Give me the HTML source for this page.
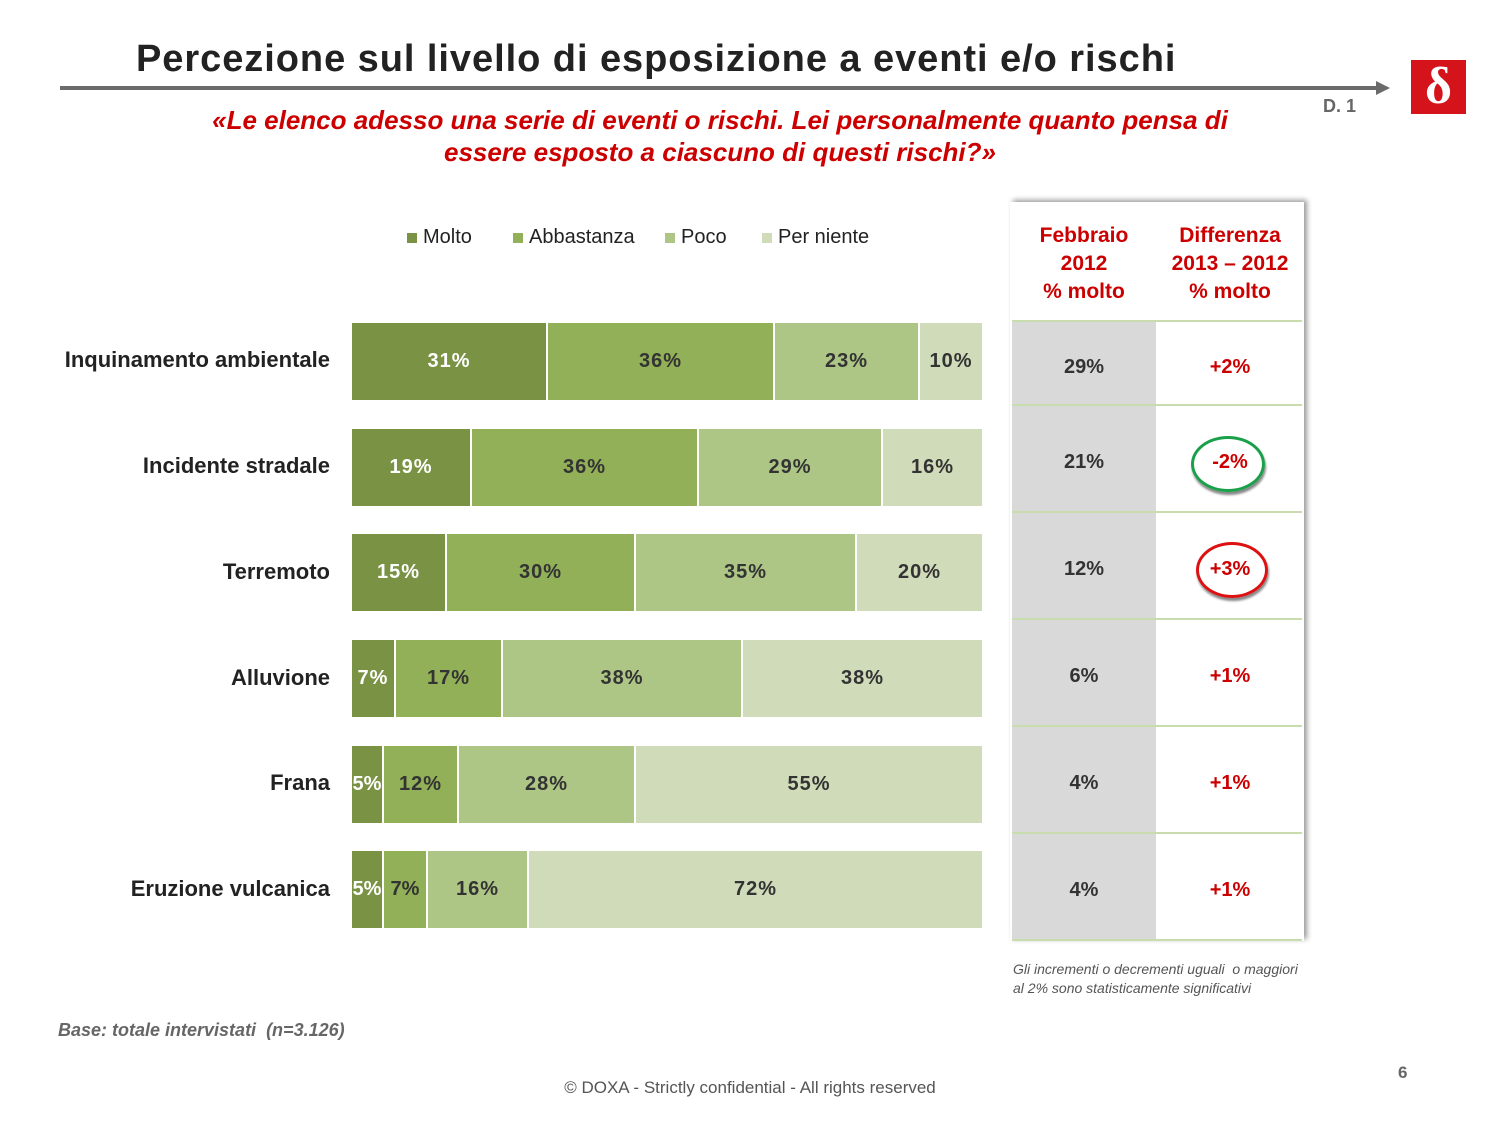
<!DOCTYPE html>
<html><head><meta charset="utf-8"><style>
body{margin:0;width:1500px;height:1125px;background:#fff;position:relative;overflow:hidden;font-family:"Liberation Sans","DejaVu Sans",sans-serif}
.a{position:absolute}
.seg{position:absolute;height:77px;display:flex;align-items:center;justify-content:center;font-weight:bold;font-size:20px;color:#333;border-right:2px solid #fff;box-sizing:border-box;letter-spacing:1px}
.lab{position:absolute;right:1170px;font-weight:bold;font-size:22px;color:#222;text-align:right;white-space:nowrap}
.cell{position:absolute;display:flex;align-items:center;justify-content:center;font-weight:bold;font-size:20px}
.hl{position:absolute;left:1012px;width:290px;height:2px;background:#c9dcae}
.lg{position:absolute;top:226px;font-size:20px;color:#222;white-space:nowrap}
.lg i{display:inline-block;width:10px;height:10px;margin-right:6px}
</style></head><body>
<div class="a" style="left:136px;top:38px;font-size:38px;font-weight:bold;color:#222;letter-spacing:0.95px">Percezione sul livello di esposizione a eventi e/o rischi</div>
<div class="a" style="left:60px;top:86px;width:1320px;height:4px;background:#6b6b6b"></div>
<div class="a" style="left:1376px;top:81px;width:0;height:0;border-left:14px solid #6b6b6b;border-top:7px solid transparent;border-bottom:7px solid transparent"></div>
<div class="a" style="left:1323px;top:96px;font-size:18px;font-weight:bold;color:#666">D. 1</div>
<div class="a" style="left:1411px;top:60px;width:55px;height:54px;background:#d4141a;color:#fff;font-size:52px;font-weight:bold;line-height:54px;text-align:center;font-family:'Liberation Serif',serif">δ</div>
<div class="a" style="left:150px;width:1140px;top:104px;text-align:center;color:#cc0000;font-size:26px;font-weight:bold;font-style:italic;line-height:32px">«Le elenco adesso una serie di eventi o rischi. Lei personalmente quanto pensa di<br>essere esposto a ciascuno di questi rischi?»</div>

<div class="lg" style="left:407px"><i style="background:#7a9243"></i>Molto</div>
<div class="lg" style="left:513px"><i style="background:#92b057"></i>Abbastanza</div>
<div class="lg" style="left:665px"><i style="background:#aec685"></i>Poco</div>
<div class="lg" style="left:762px"><i style="background:#cfdbb9"></i>Per niente</div>

<div class="lab" style="top:347px">Inquinamento ambientale</div>
<div class="lab" style="top:453px">Incidente stradale</div>
<div class="lab" style="top:559px">Terremoto</div>
<div class="lab" style="top:665px">Alluvione</div>
<div class="lab" style="top:770px">Frana</div>
<div class="lab" style="top:876px">Eruzione vulcanica</div>

<div class="seg" style="top:323px;left:352px;width:196px;background:#7a9243;color:#fff">31%</div>
<div class="seg" style="top:323px;left:548px;width:227px;background:#92b057">36%</div>
<div class="seg" style="top:323px;left:775px;width:145px;background:#aec685">23%</div>
<div class="seg" style="top:323px;left:920px;width:62px;background:#cfdbb9;border:0">10%</div>

<div class="seg" style="top:429px;left:352px;width:120px;background:#7a9243;color:#fff">19%</div>
<div class="seg" style="top:429px;left:472px;width:227px;background:#92b057">36%</div>
<div class="seg" style="top:429px;left:699px;width:184px;background:#aec685">29%</div>
<div class="seg" style="top:429px;left:883px;width:99px;background:#cfdbb9;border:0">16%</div>

<div class="seg" style="top:534px;left:352px;width:95px;background:#7a9243;color:#fff">15%</div>
<div class="seg" style="top:534px;left:447px;width:189px;background:#92b057">30%</div>
<div class="seg" style="top:534px;left:636px;width:221px;background:#aec685">35%</div>
<div class="seg" style="top:534px;left:857px;width:125px;background:#cfdbb9;border:0">20%</div>

<div class="seg" style="top:640px;left:352px;width:44px;background:#7a9243;color:#fff">7%</div>
<div class="seg" style="top:640px;left:396px;width:107px;background:#92b057">17%</div>
<div class="seg" style="top:640px;left:503px;width:240px;background:#aec685">38%</div>
<div class="seg" style="top:640px;left:743px;width:239px;background:#cfdbb9;border:0">38%</div>

<div class="seg" style="top:746px;left:352px;width:32px;background:#7a9243;color:#fff;letter-spacing:0">5%</div>
<div class="seg" style="top:746px;left:384px;width:75px;background:#92b057">12%</div>
<div class="seg" style="top:746px;left:459px;width:177px;background:#aec685">28%</div>
<div class="seg" style="top:746px;left:636px;width:346px;background:#cfdbb9;border:0">55%</div>

<div class="seg" style="top:851px;left:352px;width:32px;background:#7a9243;color:#fff;letter-spacing:0">5%</div>
<div class="seg" style="top:851px;left:384px;width:44px;background:#92b057;letter-spacing:0">7%</div>
<div class="seg" style="top:851px;left:428px;width:101px;background:#aec685">16%</div>
<div class="seg" style="top:851px;left:529px;width:453px;background:#cfdbb9;border:0">72%</div>

<div class="a" style="left:1010px;top:202px;width:294px;height:739px;background:#fff;box-shadow:3px -2px 5px #999"></div>
<div class="a" style="left:1012px;top:320px;width:144px;height:620px;background:#d9d9d9"></div>
<div class="hl" style="top:320px"></div><div class="hl" style="top:404px"></div><div class="hl" style="top:511px"></div><div class="hl" style="top:618px"></div><div class="hl" style="top:725px"></div><div class="hl" style="top:832px"></div><div class="hl" style="top:939px"></div>
<div class="cell" style="left:1012px;top:222px;width:144px;color:#cc0000;text-align:center;line-height:28px;font-size:21px">Febbraio<br>2012<br>% molto</div>
<div class="cell" style="left:1156px;top:222px;width:148px;color:#cc0000;text-align:center;line-height:28px;font-size:21px">Differenza<br>2013 – 2012<br>% molto</div>

<div class="cell" style="left:1012px;top:325px;width:144px;height:84px;color:#333">29%</div>
<div class="cell" style="left:1012px;top:409px;width:144px;height:107px;color:#333">21%</div>
<div class="cell" style="left:1012px;top:516px;width:144px;height:107px;color:#333">12%</div>
<div class="cell" style="left:1012px;top:623px;width:144px;height:107px;color:#333">6%</div>
<div class="cell" style="left:1012px;top:730px;width:144px;height:107px;color:#333">4%</div>
<div class="cell" style="left:1012px;top:837px;width:144px;height:107px;color:#333">4%</div>
<div class="cell" style="left:1156px;top:325px;width:148px;height:84px;color:#cc0000">+2%</div>
<div class="cell" style="left:1156px;top:409px;width:148px;height:107px;color:#cc0000">-2%</div>
<div class="cell" style="left:1156px;top:516px;width:148px;height:107px;color:#cc0000">+3%</div>
<div class="cell" style="left:1156px;top:623px;width:148px;height:107px;color:#cc0000">+1%</div>
<div class="cell" style="left:1156px;top:730px;width:148px;height:107px;color:#cc0000">+1%</div>
<div class="cell" style="left:1156px;top:837px;width:148px;height:107px;color:#cc0000">+1%</div>
<div class="a" style="left:1191px;top:436px;width:68px;height:50px;border:3px solid #1aa04a;border-radius:50%;box-shadow:1px 3px 2px #888"></div>
<div class="a" style="left:1196px;top:542px;width:66px;height:50px;border:3px solid #dd1111;border-radius:50%;box-shadow:1px 3px 2px #888"></div>

<div class="a" style="left:1013px;top:960px;font-size:14px;font-style:italic;color:#555;line-height:19px">Gli incrementi o decrementi uguali &nbsp;o maggiori<br>al 2% sono statisticamente significativi</div>
<div class="a" style="left:58px;top:1020px;font-size:18px;font-weight:bold;font-style:italic;color:#666">Base: totale intervistati &nbsp;(n=3.126)</div>
<div class="a" style="left:0;width:1500px;top:1078px;text-align:center;font-size:17px;color:#555">© DOXA - Strictly confidential - All rights reserved</div>
<div class="a" style="left:1398px;top:1063px;font-size:17px;font-weight:bold;color:#666">6</div>
</body></html>
